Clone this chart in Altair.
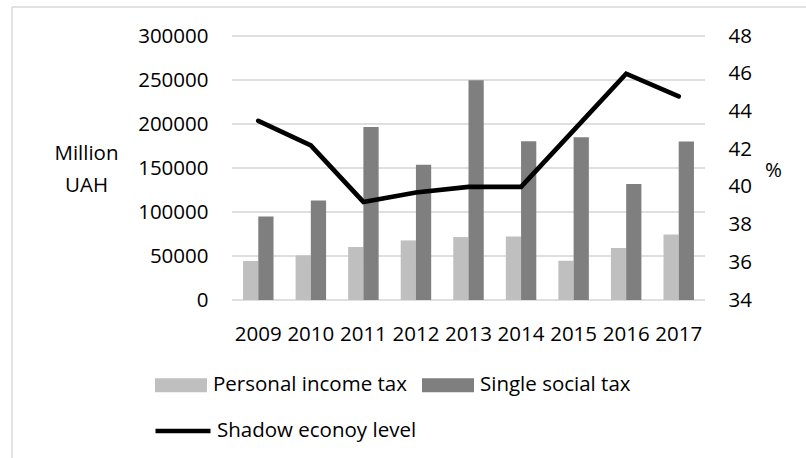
import altair as alt
import pandas as pd

# ---- data ----
years = ["2009", "2010", "2011", "2012", "2013", "2014", "2015", "2016", "2017"]
personal_income_tax = [44300, 50700, 60200, 67700, 71500, 72300, 44600, 59000, 74500]
single_social_tax = [95000, 113100, 196700, 153600, 249700, 180500, 185000, 131700, 180100]
shadow_economy_level = [43.5, 42.2, 39.2, 39.7, 40.0, 40.0, 43.0, 46.0, 44.8]
bar_series = ["Personal income tax", "Single social tax"]
line_series = "Shadow econoy level"
left_ticks = [0, 50000, 100000, 150000, 200000, 250000, 300000]
right_ticks = [34, 36, 38, 40, 42, 44, 46, 48]

bars_df = pd.DataFrame({
    "year": years * 2,
    "series": [bar_series[0]] * len(years) + [bar_series[1]] * len(years),
    "value": personal_income_tax + single_social_tax,
})
line_df = pd.DataFrame({
    "year": years,
    "level": shadow_economy_level,
    "name": [line_series] * len(years),
})
grid_df = pd.DataFrame({"tick": left_ticks})
frame_df = pd.DataFrame({"k": [0]})

FONT = "Open Sans"
FS = 20.5
TXT = "#000000"
GRID = "#d5d5d5"
W, H = 473, 264

x_enc = alt.X(
    "year:N", sort=years,
    scale=alt.Scale(domain=years, paddingInner=0.42, paddingOuter=0.21),
    axis=alt.Axis(title=None, labelAngle=0, domain=False, ticks=False, grid=False,
                  labelPadding=24, labelFontSize=FS, labelFont=FONT, labelColor=TXT),
)

gridlines = alt.Chart(grid_df).mark_rule(color=GRID, strokeWidth=1.5).encode(
    y=alt.Y("tick:Q", scale=alt.Scale(domain=[0, 300000], nice=False), axis=None),
    x=alt.value(0), x2=alt.value(W),
)

bars = alt.Chart(bars_df).mark_bar().encode(
    x=x_enc,
    xOffset=alt.XOffset("series:N", sort=bar_series,
                        scale=alt.Scale(domain=bar_series, paddingInner=0, paddingOuter=0)),
    y=alt.Y("value:Q", scale=alt.Scale(domain=[0, 300000], nice=False),
            axis=alt.Axis(values=left_ticks, format="d", domain=False, ticks=False, tickSize=0,
                          labelPadding=24, labelFontSize=FS, labelFont=FONT, labelColor=TXT,
                          grid=False,
                          title=["Million", "UAH"], titleAngle=0, titleX=-146, titleY=117,
                          titleAlign="center", titleBaseline="middle", titleLineHeight=32,
                          titleFontSize=FS, titleFont=FONT, titleFontWeight="normal",
                          titleColor=TXT)),
    color=alt.Color("series:N",
                    scale=alt.Scale(domain=bar_series, range=["#bfbfbf", "#7f7f7f"]),
                    legend=alt.Legend(orient="none", legendX=-77, legendY=323,
                                      direction="horizontal", columns=2, title=None,
                                      symbolType="M-1,-0.27H1V0.27H-1Z", symbolSize=2704,
                                      symbolStrokeWidth=0, symbolOpacity=1,
                                      labelFontSize=FS, labelFont=FONT, labelColor=TXT,
                                      labelOffset=6, columnPadding=15, labelLimit=500,
                                      padding=0)),
)

line = alt.Chart(line_df).mark_line(strokeWidth=4.7, strokeCap="round", strokeJoin="miter").encode(
    x=x_enc,
    y=alt.Y("level:Q", scale=alt.Scale(domain=[34, 48], nice=False, zero=False),
            axis=alt.Axis(orient="right", values=right_ticks, domain=False, ticks=False,
                          tickSize=0, grid=False, labelPadding=23, labelFontSize=FS,
                          labelFont=FONT, labelColor=TXT,
                          title="%", titleAngle=0, titleX=68, titleY=134,
                          titleAlign="center", titleBaseline="middle",
                          titleFontSize=FS, titleFont=FONT, titleFontWeight="normal",
                          titleColor=TXT)),
    stroke=alt.Stroke("name:N", scale=alt.Scale(domain=[line_series], range=["#000000"]),
                      legend=alt.Legend(orient="none", legendX=-79, legendY=365,
                                        title=None, symbolType="stroke", symbolSize=3025,
                                        symbolStrokeWidth=4.7, symbolStrokeColor="#000000",
                                        labelFontSize=FS, labelFont=FONT, labelColor=TXT,
                                        labelOffset=4, labelLimit=500, padding=0)),
)

frame_top = alt.Chart(frame_df).mark_rule(color="#d9d9d9", strokeWidth=1.5).encode(
    x=alt.value(-220), x2=alt.value(600), y=alt.value(-29))
frame_left = alt.Chart(frame_df).mark_rule(color="#d9d9d9", strokeWidth=1.5).encode(
    x=alt.value(-220), y=alt.value(-29), y2=alt.value(450))

chart = alt.layer(frame_top, frame_left, gridlines, bars, line).resolve_scale(
    y="independent"
).properties(
    width=W, height=H,
    padding={"left": 232, "top": 36, "right": 101, "bottom": 158},
    autosize=alt.AutoSizeParams(type="none"),
).configure_view(stroke=None)

chart.save("out.html", embed_options={"renderer": "svg", "actions": False})
